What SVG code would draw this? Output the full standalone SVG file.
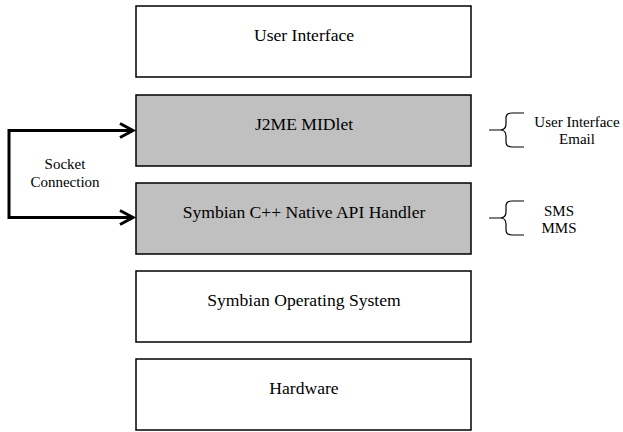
<svg xmlns="http://www.w3.org/2000/svg" width="623" height="432" viewBox="0 0 623 432">
<style>
.box{stroke:#000;stroke-width:1.5}
.w{fill:#fff}
.g{fill:#c0c0c0}
.t{font-family:"Liberation Serif",serif;font-size:17.6px;fill:#000;text-anchor:middle}
.s{font-family:"Liberation Serif",serif;font-size:15px;fill:#000;text-anchor:middle}
.c{fill:none;stroke:#000;stroke-width:3}
.br{fill:none;stroke:#000;stroke-width:1.2}
</style>
<rect width="623" height="432" fill="#fff"/>
<g id="user-interface"><rect class="box w" x="136" y="6" width="335" height="71"/><text class="t" x="304" y="41">User Interface</text></g>
<g id="j2me-midlet"><rect class="box g" x="136" y="95" width="335" height="71"/><text class="t" x="304" y="130">J2ME MIDlet</text></g>
<g id="symbian-api"><rect class="box g" x="136" y="183" width="335" height="71"/><text class="t" x="304" y="218">Symbian C++ Native API Handler</text></g>
<g id="symbian-os"><rect class="box w" x="136" y="271" width="335" height="71"/><text class="t" x="304" y="306">Symbian Operating System</text></g>
<g id="hardware"><rect class="box w" x="136" y="359" width="335" height="71"/><text class="t" x="304" y="394">Hardware</text></g>
<g id="connectors">
<path class="c" d="M133,130.5 H9 V217.5 H133"/>
<path class="c" d="M120,123.5 L133,130.5 L120,137.5"/>
<path class="c" d="M120,210.5 L133,217.5 L120,224.5"/>
<text class="s" x="65" y="169">Socket</text>
<text class="s" x="65" y="187">Connection</text>
</g>
<g id="midlet-brace">
<path class="br" d="M489,130 H500 Q506,130 506,124 V118 Q506,113 512,113 H524 M500,130 Q506,130 506,136 V142 Q506,147 512,147 H524"/>
<text class="s" x="577" y="127">User Interface</text>
<text class="s" x="577" y="144">Email</text>
</g>
<g id="api-brace">
<path class="br" d="M489,218 H500 Q506,218 506,212 V206 Q506,201 512,201 H524 M500,218 Q506,218 506,224 V230 Q506,235 512,235 H524"/>
<text class="s" x="559" y="216">SMS</text>
<text class="s" x="559" y="233">MMS</text>
</g>
</svg>
